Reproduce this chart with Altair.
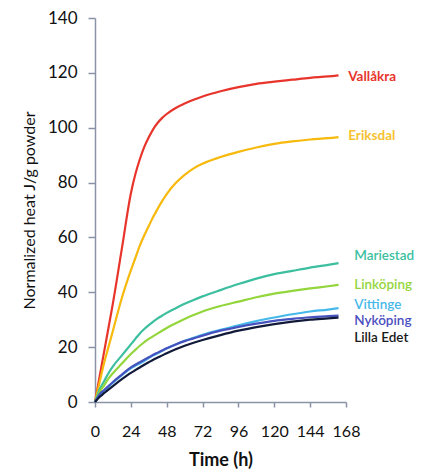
import altair as alt
import pandas as pd

# Time points (h)
times = [0, 3, 6, 9, 12, 18, 24, 27, 30, 33, 36, 39, 42, 45, 48, 54, 60, 66, 72, 84, 96, 108, 120, 132, 144, 156, 163]

series_names = ["Vallåkra", "Eriksdal", "Mariestad", "Linköping", "Vittinge", "Nyköping", "Lilla Edet"]
line_colors = ["#e8352c", "#f6b90c", "#3cbf9f", "#93d63c", "#46b9ea", "#4652bd", "#121a3a"]
label_colors = ["#e8352c", "#f6c230", "#3cbf9f", "#93d63c", "#46b9ea", "#4a4fc0", "#1a1a1a"]

vallakra = [0, 9, 18, 27, 36, 56, 76, 83, 88.5, 93, 96.5, 99.5, 101.8, 103.6, 105, 107.2, 108.8, 110.2, 111.4, 113.3, 114.8, 116, 116.8, 117.5, 118.2, 118.7, 119.1]
eriksdal = [0, 7, 14, 20, 26, 38, 48, 52.5, 57, 60.8, 64.2, 67.5, 70.5, 73.3, 75.8, 79.8, 82.8, 85.2, 86.9, 89.3, 91.2, 92.8, 94.1, 95, 95.7, 96.2, 96.6]
mariestad = [0, 4.5, 7.5, 10.5, 13, 17, 21, 23, 25, 26.6, 28, 29.3, 30.5, 31.5, 32.5, 34.2, 35.8, 37.2, 38.5, 40.8, 43, 45, 46.6, 47.8, 49, 50, 50.6]
linkoping = [0, 3.5, 6, 8.5, 10.5, 14, 17.5, 19, 20.5, 21.8, 23, 24, 25, 26, 27, 28.7, 30.3, 31.7, 33, 35, 36.6, 38.2, 39.5, 40.5, 41.4, 42.2, 42.7]
vittinge = [0, 2.5, 4, 5.5, 7, 9.8, 12.3, 13.2, 14, 15, 16, 17, 17.8, 18.7, 19.5, 21, 22.3, 23.4, 24.5, 26.3, 28, 29.5, 30.8, 32, 33, 33.7, 34.2]
nykoping = [0, 2.8, 4.3, 5.8, 7.3, 10, 12.6, 13.6, 14.5, 15.4, 16.3, 17.2, 18, 18.8, 19.6, 21, 22.2, 23.2, 24.2, 26, 27.4, 28.6, 29.6, 30.3, 30.9, 31.3, 31.5]
lilla_edet = [0, 1.8, 3.2, 4.5, 5.8, 8.3, 10.6, 11.6, 12.6, 13.6, 14.5, 15.4, 16.2, 17, 17.8, 19.2, 20.5, 21.6, 22.6, 24.4, 26, 27.3, 28.4, 29.3, 30, 30.5, 30.8]

all_values = [vallakra, eriksdal, mariestad, linkoping, vittinge, nykoping, lilla_edet]

x_ticks = [0, 24, 48, 72, 96, 120, 144, 168]
y_ticks = [0, 20, 40, 60, 80, 100, 120, 140]

# Label anchor positions (time, value)
label_t = [169.5, 169.5, 173.5, 173.5, 173.5, 173.5, 173.5]
label_v = [118.6, 97.0, 53.4, 42.6, 35.4, 29.6, 23.2]
label_weight = ["bold", "bold", "normal", "normal", "normal", "normal", "normal"]

rows = []
for name, vals in zip(series_names, all_values):
    for t, v in zip(times, vals):
        rows.append({"series": name, "t": t, "v": v})
df = pd.DataFrame(rows)

lab = pd.DataFrame({"series": series_names, "t": label_t, "v": label_v,
                    "fw": label_weight, "lc": label_colors})

x_enc = alt.X("t:Q", scale=alt.Scale(domain=[0, 168], nice=False),
              axis=alt.Axis(values=x_ticks, title="Time (h)",
                            grid=False, tickSize=5, labelPadding=16, labelOverlap=False,
                            labelFontSize=16, labelFlush=False,
                            titleFontWeight="bold", titleFontSize=18, titlePadding=12))
y_enc = alt.Y("v:Q", scale=alt.Scale(domain=[0, 140], nice=False),
              axis=alt.Axis(values=y_ticks,
                            title="Normalized heat J/g powder", grid=False, labelOverlap=False,
                            tickSize=7, labelPadding=11, labelFontSize=17, labelFlush=False,
                            titleFontWeight="normal", titleFontSize=16, titlePadding=10))

lines = alt.Chart(df).mark_line(strokeWidth=2.2, interpolate="monotone").encode(
    x=x_enc, y=y_enc,
    color=alt.Color("series:N", scale=alt.Scale(domain=series_names, range=line_colors), legend=None),
    detail="series:N",
)

labels_bold = alt.Chart(lab[lab.fw == "bold"]).mark_text(
    align="left", baseline="middle", fontSize=13.5, fontWeight="bold", font="Lato"
).encode(
    x=x_enc, y=y_enc, text="series:N",
    color=alt.Color("lc:N", scale=None),
)
labels_norm = alt.Chart(lab[lab.fw == "normal"]).mark_text(
    align="left", baseline="middle", fontSize=13.5, fontWeight=600, font="Lato"
).encode(
    x=x_enc, y=y_enc, text="series:N",
    color=alt.Color("lc:N", scale=None),
)

chart = alt.layer(lines, labels_bold, labels_norm).properties(
    width=251, height=384,
    autosize=alt.AutoSizeParams(type="none"),
    padding={"left": 87, "top": 10, "right": 75, "bottom": 70},
).configure_view(stroke=None).configure_axis(
    domainColor="#8a93a6", tickColor="#8a93a6", domainWidth=1.5, tickWidth=1.5,
    labelFont="Lato", titleFont="Lato", labelColor="#111111",
    titleColor="#111111",
)

chart.save("out.html", embed_options={"renderer": "svg", "actions": False})
